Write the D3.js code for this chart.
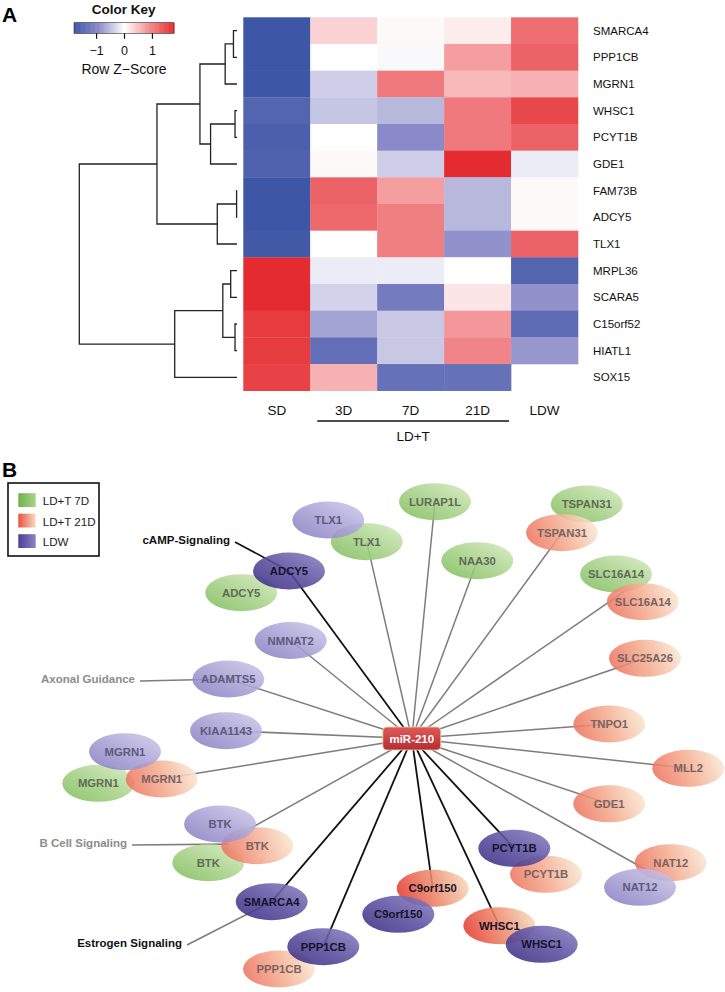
<!DOCTYPE html>
<html><head><meta charset="utf-8">
<script src="https://cdn.jsdelivr.net/npm/d3@7"></script>
<style>
body{margin:0;background:#fff;}
svg text{font-family:"Liberation Sans", Arial, Helvetica, sans-serif;}
</style></head><body>
<svg id="chart" width="725" height="992"></svg>
<script>
// ================= DATA =================
// Panel A – heatmap
const conditions = ["SD","3D","7D","21D","LDW"];
const genes = ["SMARCA4","PPP1CB","MGRN1","WHSC1","PCYT1B","GDE1","FAM73B","ADCY5","TLX1","MRPL36","SCARA5","C15orf52","HIATL1","SOX15"];
const zSD  = [-1.75,-1.75,-1.75,-1.5,-1.6,-1.55,-1.75,-1.75,-1.7,1.75,1.75,1.6,1.6,1.55];
const z3D  = [0.35,0,-0.38,-0.45,0,0.05,1.25,1.2,0,-0.15,-0.35,-0.7,-1.35,0.6];
const z7D  = [0.05,-0.05,1.05,-0.55,-0.9,-0.38,0.75,1.0,1.0,-0.15,-1.15,-0.42,-0.42,-1.3];
const z21D = [0.15,0.75,0.55,1.05,1.05,1.75,-0.55,-0.55,-0.85,0,0.2,0.8,0.95,-1.3];
const zLDW = [1.15,1.25,0.6,1.5,1.25,-0.15,0.05,0.05,1.25,-1.5,-0.85,-1.4,-0.8,null];
const zByCondition = [zSD, z3D, z7D, z21D, zLDW];
const keyTicks = [-1, 0, 1];
const groupLabel = "LD+T";
const groupedConditions = ["3D","7D","21D"];
// row dendrogram (merge heights)
const dendro = {h:4.0, c:[
  {h:2.03, c:[
    {h:0.94, c:[
      {h:0.30, c:[{h:0.09, c:[{n:"SMARCA4"},{n:"PPP1CB"}]}, {n:"MGRN1"}]},
      {h:0.67, c:[{h:0.05, c:[{n:"WHSC1"},{n:"PCYT1B"}]}, {n:"GDE1"}]}
    ]},
    {h:0.50, c:[{h:0.01, c:[{n:"FAM73B"},{n:"ADCY5"}]}, {n:"TLX1"}]}
  ]},
  {h:1.58, c:[
    {h:0.36, c:[{h:0.16, c:[{n:"MRPL36"},{n:"SCARA5"}]}, {h:0.05, c:[{n:"C15orf52"},{n:"HIATL1"}]}]},
    {n:"SOX15"}
  ]}
]};

// Panel B – network
const hubName = "miR-210";
const legendGroups = ["LD+T 7D","LD+T 21D","LDW"];
const nodes7D  = ["TLX1","LURAP1L","TSPAN31","NAA30","ADCY5","SLC16A14","MGRN1","BTK"];
const nodes21D = ["TSPAN31","SLC16A14","SLC25A26","TNPO1","MLL2","GDE1","MGRN1","BTK","PCYT1B","NAT12","C9orf150","WHSC1","PPP1CB"];
const nodesLDW = ["TLX1","ADCY5","NMNAT2","ADAMTS5","KIAA1143","MGRN1","BTK","SMARCA4","PPP1CB","C9orf150","WHSC1","PCYT1B","NAT12"];
const strongNodes = ["LDW:ADCY5","LDW:SMARCA4","LDW:PPP1CB","LDW:C9orf150","LDW:WHSC1","LDW:PCYT1B","21D:C9orf150","21D:WHSC1"];
const blackEdges = [["LDW:ADCY5"],["LDW:SMARCA4"],["LDW:PPP1CB"],["21D:C9orf150"],["21D:WHSC1"],["LDW:PCYT1B"]];
const greyEdges = [["7D:TLX1"],["7D:LURAP1L"],["7D:NAA30"],["21D:TSPAN31"],["7D:SLC16A14","21D:SLC16A14"],
  ["21D:SLC25A26"],["21D:TNPO1"],["21D:MLL2"],["21D:GDE1"],["21D:NAT12","LDW:NAT12"],["LDW:NMNAT2"],
  ["LDW:ADAMTS5"],["LDW:KIAA1143"],["21D:MGRN1"],["LDW:BTK","21D:BTK"]];
const pathways = ["cAMP-Signaling","Axonal Guidance","B Cell Signaling","Estrogen Signaling"];
const pathwayGenes = [["LDW:ADCY5"],["LDW:ADAMTS5"],["LDW:BTK","21D:BTK","7D:BTK"],["LDW:SMARCA4"]];
const pathwayStrong = [true,false,false,true];

// ================= LAYOUT (network positions, not data) =================
const hubPos = [411.8, 738.5];
const nodeLayout = {
  "7D:TLX1":[366.7,541.7], "7D:LURAP1L":[435,501.7], "7D:TSPAN31":[586.7,504], "7D:NAA30":[477.3,560.7],
  "7D:ADCY5":[241.2,592.7], "7D:SLC16A14":[616,574], "7D:MGRN1":[98.3,783.3], "7D:BTK":[208.3,862.7],
  "21D:TSPAN31":[562,532.7], "21D:SLC16A14":[642.8,601.7], "21D:SLC25A26":[645,658.3], "21D:TNPO1":[609.3,724],
  "21D:MLL2":[688.3,768.3], "21D:GDE1":[609.2,803.8], "21D:MGRN1":[161.7,779], "21D:BTK":[257.3,845.7],
  "21D:PCYT1B":[546,874.3], "21D:NAT12":[670.7,862.7], "21D:C9orf150":[432.7,888.3], "21D:WHSC1":[499.3,925.7],
  "21D:PPP1CB":[279,969],
  "LDW:TLX1":[328.3,520], "LDW:ADCY5":[289,571], "LDW:NMNAT2":[290.7,640.5], "LDW:ADAMTS5":[228.3,679],
  "LDW:KIAA1143":[226,730.7], "LDW:MGRN1":[125,751.7], "LDW:BTK":[220,824], "LDW:SMARCA4":[271.7,901.7],
  "LDW:PPP1CB":[323.3,946.7], "LDW:C9orf150":[398.3,914.3], "LDW:WHSC1":[541.7,944.3], "LDW:PCYT1B":[514.3,848.3],
  "LDW:NAT12":[640,887.3]
};
const pathwayLabelEnd = [[230,540],[135,679],[127,843],[182,943]];

// ================= DRAW =================
const svg = d3.select("#chart");
const defs = svg.append("defs");

// ---------- Panel A ----------
svg.append("text").attr("x",2).attr("y",22).attr("font-size",21).attr("font-weight","bold").text("A");

const color = d3.scaleLinear()
  .domain([-1.8,-0.9,0,0.9,1.8])
  .range(["#3953a4","#8a8ac8","#ffffff","#f28a8d","#e3262a"])
  .interpolate(d3.interpolateRgb).clamp(true);

const xH = d3.scaleBand().domain(conditions).range([243.3,578]);
const yH = d3.scaleBand().domain(genes).range([17.3,390.7]);

const cells = [];
conditions.forEach((c,ci)=>genes.forEach((g,gi)=>{
  const v = zByCondition[ci][gi];
  if (v !== null) cells.push({c, g, v});
}));
svg.append("g").selectAll("rect").data(cells).join("rect")
  .attr("x", d=>xH(d.c)).attr("y", d=>yH(d.g))
  .attr("width", xH.bandwidth()+0.3).attr("height", yH.bandwidth()+0.3)
  .attr("fill", d=>color(d.v));

// gene labels
svg.append("g").selectAll("text").data(genes).join("text")
  .attr("x", 593).attr("y", d=>yH(d)+yH.bandwidth()/2+4)
  .attr("font-size", 11.5).attr("fill","#111").text(d=>d);

// column labels
svg.append("g").selectAll("text").data(conditions).join("text")
  .attr("x", d=>xH(d)+xH.bandwidth()/2).attr("y", 415)
  .attr("text-anchor","middle").attr("font-size",13.5).attr("fill","#111").text(d=>d);
const gx0 = xH(groupedConditions[0]) + 7;
const gx1 = xH(groupedConditions[groupedConditions.length-1]) + xH.bandwidth() - 2;
svg.append("line").attr("x1",gx0).attr("x2",gx1).attr("y1",421).attr("y2",421)
  .attr("stroke","#111").attr("stroke-width",1.4);
svg.append("text").attr("x",(gx0+gx1)/2).attr("y",440.5).attr("text-anchor","middle")
  .attr("font-size",13.5).attr("fill","#111").text(groupLabel);

// dendrogram
const xD = d3.scaleLinear().domain([0,4]).range([237,79.3]);
const root = d3.hierarchy(dendro, d=>d.c);
root.eachAfter(d=>{
  if (!d.children) { d.px = xD(0); d.py = yH(d.data.n)+yH.bandwidth()/2; }
  else { d.px = xD(d.data.h); d.py = d3.mean(d.children, c=>c.py); }
});
const links = [];
root.each(d=>{ if (d.children) d.children.forEach(c=>links.push({p:d,c})); });
svg.append("g").selectAll("path").data(links).join("path")
  .attr("d", l=>`M${l.c.px},${l.c.py}H${l.p.px}V${l.p.py}`)
  .attr("fill","none").attr("stroke","#222").attr("stroke-width",1.3);

// color key
svg.append("text").attr("x",123.7).attr("y",13.5).attr("text-anchor","middle")
  .attr("font-size",13.5).attr("font-weight","bold").attr("fill","#111").text("Color Key");
const keyX = d3.scaleLinear().domain([-1.79,1.79]).range([74,174]);
const keySteps = d3.range(-1.79,1.79,0.02);
const keyG = svg.append("g");
keyG.selectAll("rect").data(keySteps).join("rect")
  .attr("x", d=>keyX(d)).attr("y",22.7).attr("width", keyX(0.02)-keyX(0)+0.4).attr("height",10.6)
  .attr("fill", d=>color(d));
keyG.append("rect").attr("x",74).attr("y",22.7).attr("width",100).attr("height",10.6)
  .attr("fill","none").attr("stroke","#333").attr("stroke-width",0.6);
const keyAxis = svg.append("g").attr("transform","translate(0,33.3)")
  .call(d3.axisBottom(keyX).tickValues(keyTicks).tickSize(5.5).tickPadding(7).tickFormat(d3.format("d")));
keyAxis.select(".domain").remove();
keyAxis.selectAll("line").attr("stroke","#111").attr("stroke-width",1.2);
keyAxis.selectAll("text").attr("font-size",12.5).attr("fill","#111")
  .attr("font-family","'Liberation Sans', Arial, sans-serif");
svg.append("text").attr("x",124).attr("y",73.5).attr("text-anchor","middle")
  .attr("font-size",14).attr("fill","#111").text("Row Z\u2212Score");

// ---------- Panel B ----------
svg.append("text").attr("x",2).attr("y",477).attr("font-size",21).attr("font-weight","bold").text("B");

function grad(id, stops, x1,y1,x2,y2){
  const g = defs.append("linearGradient").attr("id",id)
    .attr("x1",x1).attr("y1",y1).attr("x2",x2).attr("y2",y2);
  stops.forEach(s=>g.append("stop").attr("offset",s[0]).attr("stop-color",s[1]));
}
grad("gGreen",  [[0,"#7cbb58"],[0.55,"#acd48e"],[1,"#d8ecc4"]], "0%","100%","100%","0%");
grad("gOrange", [[0,"#ec7460"],[0.5,"#f4ac90"],[1,"#f9e8d4"]], "0%","60%","100%","40%");
grad("gOrangeS",[[0,"#e43b32"],[0.45,"#ec7f62"],[1,"#f5d8b8"]], "0%","60%","100%","40%");
grad("gPurple", [[0,"#847bbf"],[0.5,"#a8a1d5"],[1,"#d0cbea"]], "0%","100%","100%","0%");
grad("gPurpleS",[[0,"#35287e"],[0.5,"#5a4e9f"],[1,"#8a82c2"]], "0%","100%","100%","0%");
grad("gHub",    [[0,"#e05a5a"],[1,"#b52c32"]], "0%","0%","0%","100%");
grad("lgGreen", [[0,"#6fb24c"],[1,"#a8d488"]], "0%","0%","100%","0%");
grad("lgOrange",[[0,"#e9503f"],[1,"#f7dcc0"]], "0%","0%","100%","0%");
grad("lgPurple",[[0,"#4c3f96"],[1,"#8c84c6"]], "0%","0%","100%","0%");

// nodes
const allNodes = [
  ...nodes7D.map(n=>({id:"7D:"+n, name:n, grp:"7D"})),
  ...nodes21D.map(n=>({id:"21D:"+n, name:n, grp:"21D"})),
  ...nodesLDW.map(n=>({id:"LDW:"+n, name:n, grp:"LDW"}))
];
allNodes.forEach(n=>{ n.strong = strongNodes.includes(n.id); n.x = nodeLayout[n.id][0]; n.y = nodeLayout[n.id][1]; });
const nodeById = new Map(allNodes.map(n=>[n.id,n]));
const targetPt = ids => [d3.mean(ids, i=>nodeById.get(i).x), d3.mean(ids, i=>nodeById.get(i).y)];

// legend
svg.append("rect").attr("x",8).attr("y",483).attr("width",91).attr("height",73)
  .attr("fill","#fff").attr("stroke","#111").attr("stroke-width",1.6);
const legFill = ["url(#lgGreen)","url(#lgOrange)","url(#lgPurple)"];
const legY = d3.scalePoint().domain(legendGroups).range([500,541]);
svg.append("g").selectAll("rect").data(legendGroups).join("rect")
  .attr("x",18.3).attr("y",d=>legY(d)-6.8).attr("width",17.4).attr("height",13.8)
  .attr("fill",(d,i)=>legFill[i]);
svg.append("g").selectAll("text").data(legendGroups).join("text")
  .attr("x",42.7).attr("y",d=>legY(d)+5.2).attr("font-size",11.6).attr("fill","#222").text(d=>d);

// edges
const edgeG = svg.append("g");
greyEdges.forEach(t=>{
  const p = targetPt(t);
  edgeG.append("line").attr("x1",hubPos[0]).attr("y1",hubPos[1]).attr("x2",p[0]).attr("y2",p[1])
    .attr("stroke","#7d7d7d").attr("stroke-width",1.5);
});
blackEdges.forEach(t=>{
  const p = targetPt(t);
  edgeG.append("line").attr("x1",hubPos[0]).attr("y1",hubPos[1]).attr("x2",p[0]).attr("y2",p[1])
    .attr("stroke","#111").attr("stroke-width",1.8);
});

// pathway labels & lines
pathways.forEach((pw,i)=>{
  const [lx,ly] = pathwayLabelEnd[i];
  const p = targetPt(pathwayGenes[i]);
  const col = pathwayStrong[i] ? "#111" : "#8c8c8c";
  svg.append("line").attr("x1",lx+5).attr("y1",ly+2).attr("x2",p[0]).attr("y2",p[1])
    .attr("stroke", i===0 ? "#111" : "#7d7d7d").attr("stroke-width",1.6);
  svg.append("text").attr("x",lx).attr("y",ly+4.2).attr("text-anchor","end")
    .attr("font-size",11.5).attr("font-weight","bold").attr("fill",col).text(pw);
});

// ellipses
const fillFor = n => n.grp==="7D" ? "url(#gGreen)" :
  n.grp==="21D" ? (n.strong ? "url(#gOrangeS)" : "url(#gOrange)") :
  (n.strong ? "url(#gPurpleS)" : "url(#gPurple)");
svg.append("g").selectAll("ellipse").data(allNodes).join("ellipse")
  .attr("cx",d=>d.x).attr("cy",d=>d.y).attr("rx",36).attr("ry",18.5)
  .attr("fill",fillFor).attr("fill-opacity",0.88);
const txtCol = n => n.strong ? "#16142a" : (n.grp==="7D" ? "#5f6b55" : n.grp==="21D" ? "#7a6262" : "#5d5a7c");
svg.append("g").selectAll("text").data(allNodes).join("text")
  .attr("x",d=>d.x).attr("y",d=>d.y+4).attr("text-anchor","middle")
  .attr("font-size",11.3).attr("font-weight","bold").attr("fill",txtCol).text(d=>d.name);

// hub
svg.append("rect").attr("x",hubPos[0]-29).attr("y",hubPos[1]-11.5).attr("width",58).attr("height",23)
  .attr("rx",4).attr("fill","url(#gHub)").attr("stroke","#f3d9a8").attr("stroke-width",0.8);
svg.append("text").attr("x",hubPos[0]).attr("y",hubPos[1]+4.2).attr("text-anchor","middle")
  .attr("font-size",11.5).attr("font-weight","bold").attr("fill","#fff").text(hubName);
</script>
</body></html>
